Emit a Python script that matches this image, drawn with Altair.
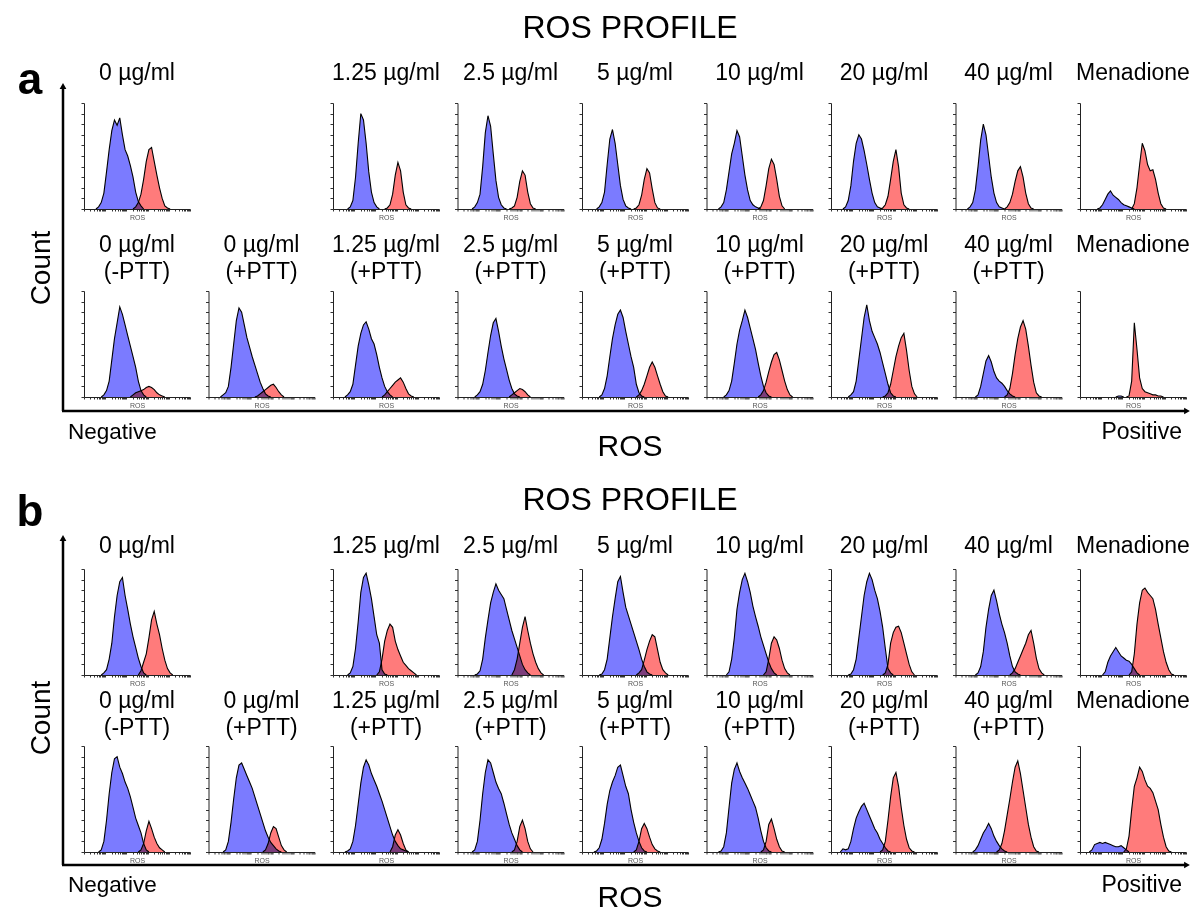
import math
import altair as alt
import pandas as pd

FONT = "Liberation Sans"
BLUE = "#7b7bff"
RED = "#ff7b7b"
NBINS = 40

# ---------------- panel titles ----------------
TITLES_TOP = ["0 µg/ml", None, "1.25 µg/ml", "2.5 µg/ml", "5 µg/ml",
              "10 µg/ml", "20 µg/ml", "40 µg/ml", "Menadione"]
TITLES_BOTTOM = [["0 µg/ml", "(-PTT)"], ["0 µg/ml", "(+PTT)"], ["1.25 µg/ml", "(+PTT)"],
                 ["2.5 µg/ml", "(+PTT)"], ["5 µg/ml", "(+PTT)"], ["10 µg/ml", "(+PTT)"],
                 ["20 µg/ml", "(+PTT)"], ["40 µg/ml", "(+PTT)"], ["Menadione", " "]]

# ---------------- histogram counts (first bin index, counts per bin) ----------------
# Figure a, top row
A1_BLUE_START = [5, None, 6, 6, 6, 5, 5, 5, 7]
A1_BLUE = [
    [2, 6, 15, 35, 56, 74, 84, 79, 86, 70, 56, 50, 41, 30, 16, 7, 3],
    None,
    [2, 8, 30, 62, 90, 84, 62, 35, 16, 6, 2],
    [2, 6, 14, 40, 72, 88, 78, 52, 27, 11, 4, 1],
    [2, 6, 16, 42, 66, 75, 62, 42, 22, 9, 3, 1],
    [2, 6, 18, 35, 52, 62, 74, 68, 50, 32, 18, 8, 4, 2, 1],
    [2, 8, 22, 45, 62, 70, 66, 55, 42, 28, 15, 6, 2, 1],
    [2, 6, 18, 40, 65, 80, 70, 50, 30, 15, 6, 2, 1],
    [1, 4, 9, 14, 17, 13, 11, 9, 6, 4, 3, 2, 1],
]
A1_RED_START = [19, None, 20, 20, 20, 20, 19, 19, 20]
A1_RED = [
    [2, 6, 14, 28, 45, 56, 58, 45, 32, 20, 10, 3, 1],
    None,
    [1, 4, 14, 32, 44, 36, 16, 4, 1],
    [1, 3, 11, 26, 36, 32, 16, 5, 1],
    [1, 4, 13, 28, 38, 34, 19, 6, 1],
    [2, 8, 22, 38, 47, 42, 28, 12, 3],
    [1, 4, 12, 28, 45, 56, 40, 15, 4, 1],
    [2, 6, 14, 26, 36, 40, 30, 15, 5, 1],
    [5, 20, 42, 62, 55, 42, 36, 37, 28, 15, 5, 1],
]

# Figure a, bottom row
A2_BLUE_START = [7, 5, 5, 7, 7, 7, 7, 8, 14]
A2_BLUE = [
    [2, 6, 15, 35, 55, 70, 85, 78, 68, 58, 48, 38, 28, 15, 6, 2],
    [2, 4, 10, 28, 50, 72, 84, 80, 68, 56, 47, 38, 30, 22, 14, 8, 3, 1],
    [2, 5, 12, 30, 48, 60, 68, 71, 64, 55, 50, 40, 28, 18, 10, 5, 2],
    [2, 5, 12, 25, 42, 58, 70, 74, 62, 48, 36, 26, 16, 8, 3, 1],
    [2, 8, 20, 38, 55, 68, 78, 82, 75, 62, 50, 38, 28, 12, 4, 1],
    [2, 6, 15, 32, 50, 63, 72, 82, 75, 65, 55, 45, 32, 20, 10, 4, 1],
    [2, 5, 15, 35, 55, 75, 87, 72, 62, 56, 50, 42, 32, 22, 12, 4, 1],
    [2, 10, 22, 34, 39, 33, 24, 18, 15, 13, 10, 6, 3, 1],
    [1, 1],
]
A2_RED_START = [18, 18, 19, 20, 21, 20, 20, 19, 18]
A2_RED = [
    [2, 4, 5, 6, 7, 9, 10, 9, 7, 4, 2, 1],
    [1, 3, 5, 7, 9, 11, 12, 9, 5, 2],
    [2, 5, 8, 11, 14, 16, 18, 14, 8, 3, 1],
    [2, 4, 6, 8, 7, 5, 2],
    [2, 6, 12, 20, 28, 33, 28, 20, 12, 5, 1],
    [2, 6, 14, 24, 33, 40, 42, 35, 25, 15, 7, 2],
    [1, 4, 12, 25, 38, 48, 56, 60, 44, 25, 10, 3],
    [2, 8, 22, 40, 55, 66, 72, 64, 48, 30, 14, 4, 1],
    [1, 15, 70, 45, 18, 8, 5, 4, 3, 2, 2, 1, 1],
]

# Figure b, top row
B1_BLUE_START = [7, None, 6, 7, 7, 8, 7, 8, 9]
B1_BLUE = [
    [2, 5, 15, 30, 55, 75, 88, 92, 75, 62, 48, 36, 26, 16, 8, 2],
    None,
    [2, 8, 25, 50, 78, 92, 96, 85, 72, 55, 38, 30, 5, 1],
    [1, 4, 15, 35, 52, 68, 78, 86, 80, 76, 72, 62, 52, 42, 34, 26, 18, 10, 5, 2],
    [1, 5, 15, 35, 55, 72, 88, 93, 78, 64, 56, 48, 40, 32, 24, 15, 8, 3, 1],
    [3, 15, 35, 62, 78, 90, 96, 88, 78, 65, 55, 46, 36, 28, 20, 12, 6, 2],
    [1, 5, 15, 35, 55, 75, 88, 96, 90, 80, 72, 60, 45, 25, 6, 2],
    [2, 8, 22, 45, 62, 75, 80, 70, 58, 48, 40, 30, 18, 8, 3, 1],
    [3, 12, 18, 22, 26, 22, 18, 16, 14, 13, 10, 6, 2],
]
B1_RED_START = [21, None, 17, 21, 21, 22, 20, 21, 19]
B1_RED = [
    [4, 12, 20, 35, 52, 60, 48, 38, 25, 14, 6, 2],
    None,
    [3, 15, 32, 42, 48, 45, 32, 24, 18, 12, 9, 6, 4, 2],
    [5, 15, 30, 45, 55, 42, 30, 20, 12, 6, 2],
    [2, 5, 14, 24, 32, 38, 36, 24, 12, 5, 2],
    [3, 15, 30, 36, 33, 25, 14, 6, 2],
    [2, 10, 30, 40, 45, 46, 40, 30, 20, 10, 3],
    [2, 6, 12, 18, 24, 30, 38, 42, 30, 16, 6, 2],
    [3, 20, 48, 68, 80, 82, 78, 75, 72, 62, 48, 35, 22, 12, 5, 1],
]

# Figure b, bottom row
B2_BLUE_START = [6, 6, 5, 6, 5, 5, 4, 7, 4]
B2_BLUE = [
    [2, 10, 30, 55, 75, 88, 90, 80, 74, 66, 60, 52, 42, 32, 25, 18, 8, 2],
    [2, 10, 28, 50, 70, 82, 84, 78, 72, 66, 60, 52, 44, 36, 28, 20, 14, 9, 6, 3, 1],
    [1, 3, 10, 25, 45, 65, 80, 87, 82, 74, 68, 62, 55, 48, 40, 32, 24, 16, 10, 6, 3, 2, 1],
    [2, 10, 30, 55, 75, 87, 84, 75, 66, 60, 55, 46, 36, 26, 18, 12, 6, 2],
    [1, 4, 12, 27, 45, 58, 66, 72, 80, 82, 72, 62, 55, 40, 28, 18, 10, 4, 1],
    [1, 5, 18, 42, 65, 78, 84, 76, 70, 65, 60, 54, 48, 42, 32, 20, 10, 4, 1],
    [3, 2, 3, 10, 22, 32, 38, 43, 46, 40, 34, 28, 22, 18, 12, 8, 4, 1],
    [2, 6, 12, 18, 22, 27, 22, 15, 10, 6, 3, 1],
    [2, 7, 8, 9, 8, 9, 8, 7, 6, 5, 5, 6, 4, 2],
]
B2_RED_START = [21, 21, 22, 21, 20, 21, 19, 16, 17]
B2_RED = [
    [2, 8, 20, 29, 22, 14, 8, 4, 2],
    [2, 8, 18, 24, 22, 14, 6, 2],
    [5, 16, 21, 16, 8, 2],
    [2, 10, 24, 30, 22, 10, 3],
    [2, 10, 22, 27, 22, 14, 7, 3, 1],
    [2, 10, 26, 31, 22, 12, 5, 1],
    [2, 10, 30, 52, 70, 75, 62, 42, 25, 12, 4, 1],
    [2, 8, 20, 35, 50, 66, 80, 86, 74, 58, 42, 26, 14, 5, 1],
    [3, 15, 40, 62, 70, 80, 76, 68, 62, 60, 56, 48, 40, 26, 14, 5, 1],
]

# log-style minor tick positions on the ROS axis (5 decades over 40 bins)
X_TICKS = [d * 8 + 8 * math.log10(m) for d in range(5) for m in range(1, 10)] + [40]
Y_TICKS = list(range(0, 101, 10))

PANEL_W = 106
PANEL_H = 106
ONE = pd.DataFrame({"k": [0]})


def series_df(start, vals):
    # one point per bin centre, closed to zero on both sides
    xs = [start - 0.5] + [start + i + 0.5 for i in range(len(vals))] + [start + len(vals) + 0.5]
    ys = [0] + list(vals) + [0]
    return pd.DataFrame({"bin": xs, "count": ys})


X_ENC = alt.X("bin:Q", scale=alt.Scale(domain=[0, NBINS], nice=False, zero=False),
              axis=alt.Axis(values=X_TICKS, labels=False, tickSize=2, tickColor="#333",
                            domainColor="#222", title="ROS", titleFontSize=7,
                            titleColor="#555", titleFont=FONT, titleFontWeight="normal",
                            titlePadding=2, grid=False))
Y_ENC = alt.Y("count:Q", scale=alt.Scale(domain=[0, 100], nice=False),
              axis=alt.Axis(values=Y_TICKS, labels=False, tickSize=3, tickColor="#333",
                            domainColor="#222", title=None, grid=False))


def text_layer(txt, x, y, size, align="center", angle=None, weight="normal", line_height=None):
    kw = dict(font=FONT, fontSize=size, align=align, baseline="middle",
              fontWeight=weight, color="black")
    if angle is not None:
        kw["angle"] = angle
    if line_height is not None:
        kw["lineHeight"] = line_height
    return alt.Chart(ONE).mark_text(**kw).encode(
        x=alt.value(x), y=alt.value(y), text=alt.value(txt))


def panel(title, b_start, b_vals, r_start, r_vals, title_y, extra=None):
    if b_vals is None:
        empty = alt.Chart(ONE).mark_point(opacity=0).encode(
            x=alt.X("k:Q", axis=None), y=alt.Y("k:Q", axis=None))
        layers = [empty] + (extra or [])
        return alt.layer(*layers).properties(width=PANEL_W, height=PANEL_H)
    bdf = series_df(b_start, b_vals)
    rdf = series_df(r_start, r_vals)
    blue_area = alt.Chart(bdf).mark_area(interpolate="linear", color=BLUE, opacity=1).encode(
        x=X_ENC, y=Y_ENC)
    red_area = alt.Chart(rdf).mark_area(interpolate="linear", color=RED, opacity=1,
                                        blend="multiply").encode(x=X_ENC, y=Y_ENC)
    blue_line = alt.Chart(bdf).mark_line(interpolate="linear", color="black",
                                         strokeWidth=1.1).encode(x=X_ENC, y=Y_ENC)
    red_line = alt.Chart(rdf).mark_line(interpolate="linear", color="black",
                                        strokeWidth=1.1).encode(x=X_ENC, y=Y_ENC)
    ttl = text_layer(title, PANEL_W / 2, title_y, 23, line_height=27)
    layers = [blue_area, red_area, blue_line, red_line, ttl] + (extra or [])
    return alt.layer(*layers).properties(width=PANEL_W, height=PANEL_H)


def decorations(letter, letter_y, title_y, count_y, arrow_top, arrow_y, neg_y, ros_y, frame=None):
    arrow_v = alt.Chart(ONE).mark_rule(color="black", strokeWidth=2.5).encode(
        x=alt.value(-21), y=alt.value(arrow_top + 4), y2=alt.value(arrow_y))
    arrow_h = alt.Chart(ONE).mark_rule(color="black", strokeWidth=2.5).encode(
        x=alt.value(-22), x2=alt.value(1101), y=alt.value(arrow_y))
    head_up = alt.Chart(ONE).mark_point(shape="triangle-up", filled=True, color="black",
                                        size=45, opacity=1).encode(
        x=alt.value(-21), y=alt.value(arrow_top + 3))
    head_right = alt.Chart(ONE).mark_point(shape="triangle-right", filled=True, color="black",
                                           size=45, opacity=1).encode(
        x=alt.value(1103), y=alt.value(arrow_y))
    out = [
        text_layer("ROS PROFILE", 546, title_y, 32),
        text_layer(letter, -54, letter_y, 44, weight="bold"),
        text_layer("Count", -42, count_y, 28, angle=270),
        arrow_v, arrow_h, head_up, head_right,
        text_layer("Negative", -16, neg_y, 22.5, align="left"),
        text_layer("Positive", 1098, neg_y, 23, align="right"),
        text_layer("ROS", 546, ros_y, 30),
    ]
    if frame is not None:
        # invisible frame spanning the whole 1197x913 canvas, fixes the layout origin
        out.append(alt.Chart(ONE).mark_rect(opacity=0).encode(
            x=alt.value(frame[0]), x2=alt.value(frame[1]),
            y=alt.value(frame[2]), y2=alt.value(frame[3])))
    return out


def row(titles, bs, bv, rs, rv, title_y, extra=None):
    panels = []
    for i in range(9):
        panels.append(panel(titles[i], bs[i], bv[i], rs[i], rv[i], title_y,
                            extra if i == 0 else None))
    return alt.hconcat(*panels, spacing=18.5, bounds="flush")


deco_a = decorations("a", -22, -75, 165, -20, 308, 329, 344, frame=(-84, 1113, -103, 810))
deco_b = decorations("b", -56, -69, 149, -34, 296, 316, 329)

row_a1 = row(TITLES_TOP, A1_BLUE_START, A1_BLUE, A1_RED_START, A1_RED, -30, deco_a)
row_a2 = row(TITLES_BOTTOM, A2_BLUE_START, A2_BLUE, A2_RED_START, A2_RED, -46)
row_b1 = row(TITLES_TOP, B1_BLUE_START, B1_BLUE, B1_RED_START, B1_RED, -23, deco_b)
row_b2 = row(TITLES_BOTTOM, B2_BLUE_START, B2_BLUE, B2_RED_START, B2_RED, -45)

# with flush bounds a nested concat counts as zero-size, so spacing = top-to-top distance
sec_a = alt.vconcat(row_a1, row_a2, spacing=188, bounds="flush")
sec_b = alt.vconcat(row_b1, row_b2, spacing=177, bounds="flush")

chart = alt.vconcat(sec_a, sec_b, spacing=466, bounds="flush").properties(
    padding=0,
    background="white",
).configure_view(stroke=None).configure_axis(grid=False)

chart.save("out.html", embed_options={"renderer": "svg", "actions": False})
